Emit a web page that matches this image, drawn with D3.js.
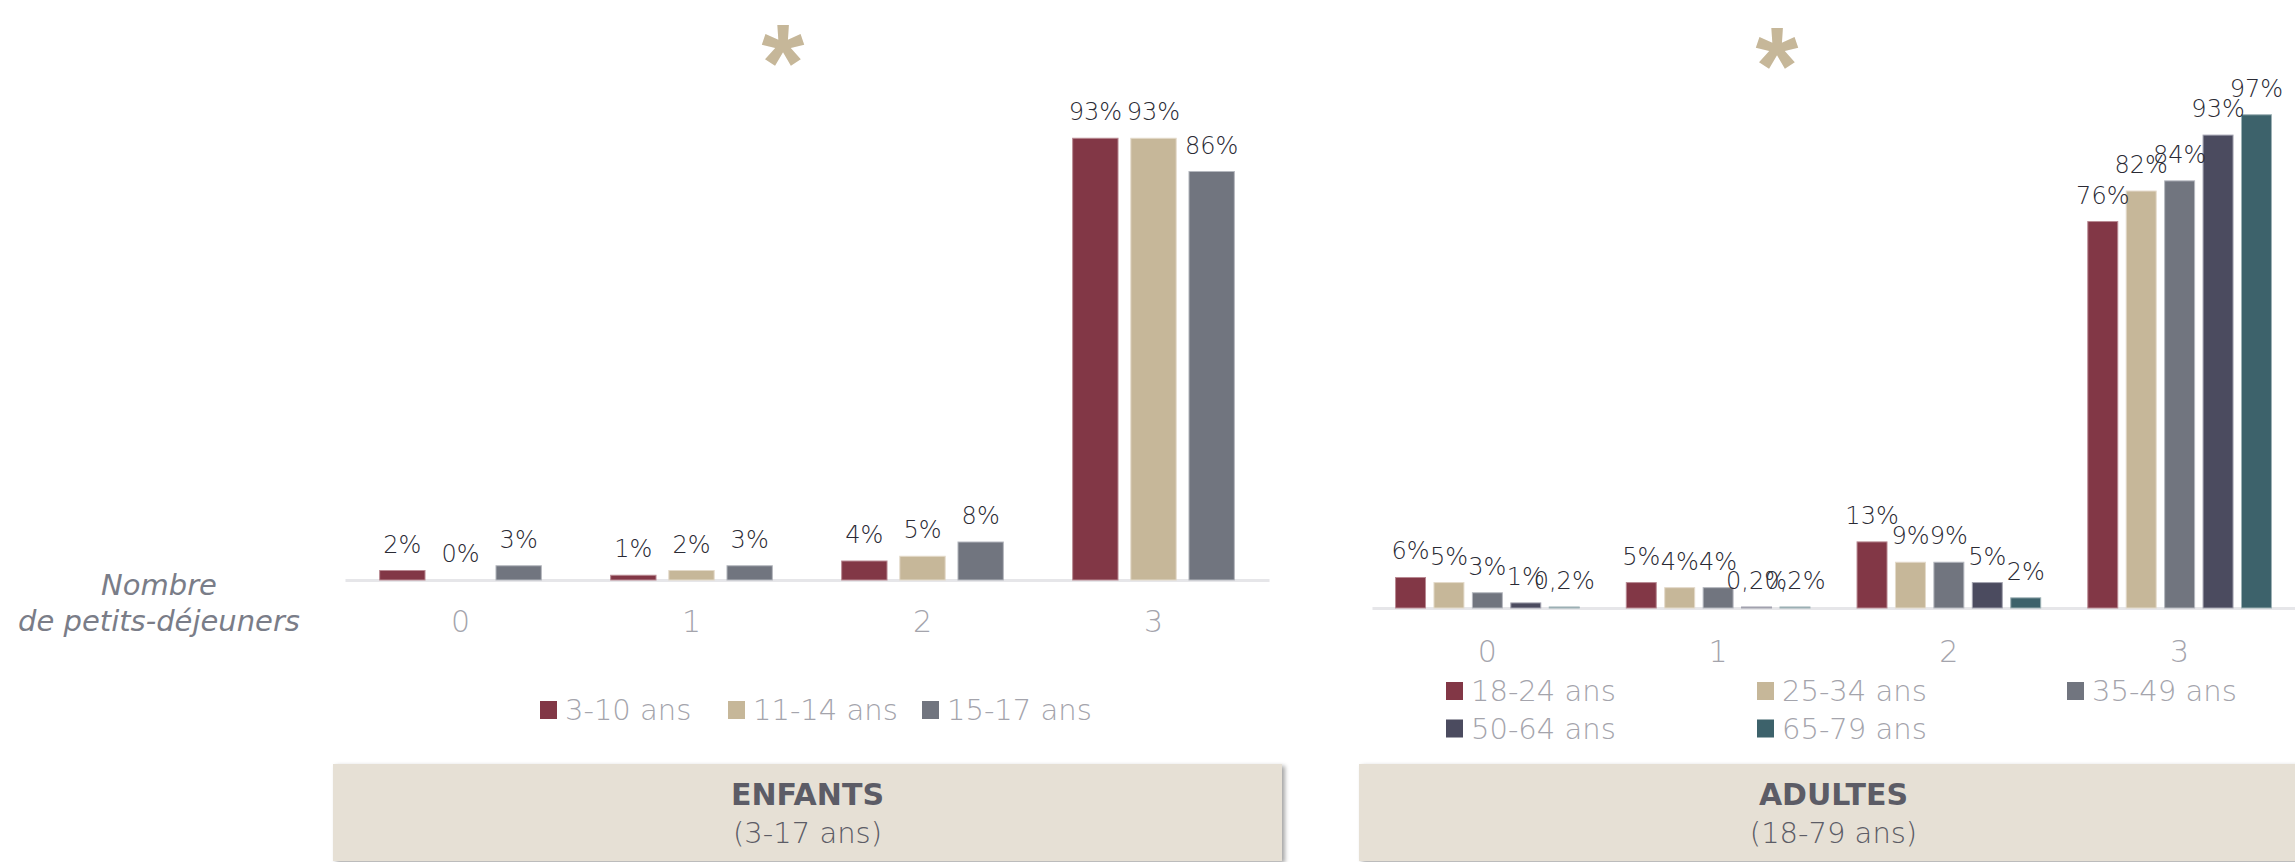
<!DOCTYPE html>
<html lang="fr">
<head>
<meta charset="utf-8">
<script src="https://cdn.jsdelivr.net/npm/d3@7"></script>
<style>
  html, body { margin: 0; padding: 0; background: #ffffff; }
  svg { display: block; }
  text { font-family: "DejaVu Sans", "Noto Sans", sans-serif; }
</style>
</head>
<body>
<svg id="chart" width="2295" height="862"></svg>
<script>
// Nombre de petits-déjeuners (0 à 3) selon la classe d'âge
const categories = ["0", "1", "2", "3"];

// Enfants (3-17 ans), en %
const childSeries = ["3-10 ans", "11-14 ans", "15-17 ans"];
const child_3_10 = [2, 1, 4, 93];
const child_11_14 = [0, 2, 5, 93];
const child_15_17 = [3, 3, 8, 86];

// Adultes (18-79 ans), en %
const adultSeries = ["18-24 ans", "25-34 ans", "35-49 ans", "50-64 ans", "65-79 ans"];
const adult_18_24 = [6, 5, 13, 76];
const adult_25_34 = [5, 4, 9, 82];
const adult_35_49 = [3, 4, 9, 84];
const adult_50_64 = [1, 0.2, 5, 93];
const adult_65_79 = [0.2, 0.2, 2, 97];

const childColors = ["#823746", "#C6B799", "#71757F"];
const adultColors = ["#823746", "#C6B799", "#71757F", "#4B4B5F", "#3D626B"];
const edgeColors = {"#823746": "#B98A93", "#C6B799": "#E3DACA", "#71757F": "#B5B8BF", "#4B4B5F": "#A3A3B0", "#3D626B": "#9DB1B5"};

const fr = d3.formatLocale({decimal: ",", thousands: "\u202f", grouping: [3], currency: ["", " €"]});
const fmtPct = v => (Number.isInteger(v) ? fr.format("d")(v) : fr.format(".1f")(v)) + "%";

const svg = d3.select("#chart");

// Drop shadow for the bottom title boxes
const defs = svg.append("defs");
const shadow = defs.append("filter").attr("id", "boxShadow")
  .attr("x", "-5%").attr("y", "-10%").attr("width", "110%").attr("height", "130%");
shadow.append("feDropShadow").attr("dx", 3).attr("dy", 2).attr("stdDeviation", 2)
  .attr("flood-color", "#000").attr("flood-opacity", 0.35);

function drawPanel(opt) {
  const g = svg.append("g");
  const x0 = d3.scaleBand().domain(categories).range(opt.xRange)
    .paddingInner(opt.groupPad).paddingOuter(opt.groupPad / 2);
  const x1 = d3.scaleBand().domain(opt.series).range([0, x0.bandwidth()]).paddingInner(0.22);
  const y = d3.scaleLinear().domain([0, 100]).range(opt.yRange);

  const rows = categories.map((c, i) => ({cat: c, vals: opt.series.map((s, j) => ({s, v: opt.values[j][i], color: opt.colors[j]}))}));

  // baseline axis
  const axis = g.append("g").attr("transform", `translate(0,${opt.yRange[0]})`)
    .call(d3.axisBottom(x0).tickSize(0).tickSizeOuter(0).tickPadding(opt.tickPad));
  axis.select(".domain").attr("stroke", "#E6E6E9").attr("stroke-width", 3);
  axis.selectAll(".tick text").attr("font-size", 30).attr("font-weight", 200)
    .attr("fill", "#A4A4AC").style("font-family", "'DejaVu Sans', sans-serif");

  const grp = g.selectAll("g.cat").data(rows).join("g").attr("class", "cat")
    .attr("transform", d => `translate(${x0(d.cat)},0)`);

  grp.selectAll("rect").data(d => d.vals).join("rect")
    .attr("x", d => x1(d.s)).attr("width", x1.bandwidth())
    .attr("y", d => y(d.v)).attr("height", d => y(0) - y(d.v))
    .attr("fill", d => d.color)
    .attr("stroke", d => edgeColors[d.color]).attr("stroke-width", 1);

  grp.selectAll("text.val").data(d => d.vals).join("text").attr("class", "val")
    .attr("x", d => x1(d.s) + x1.bandwidth() / 2)
    .attr("y", d => y(d.v) - 18)
    .attr("text-anchor", "middle").attr("font-size", 24).attr("font-weight", 200)
    .attr("fill", "#2A2A34")
    .text(d => fmtPct(d.v));

  // significance marker
  g.append("text").attr("x", opt.starX).attr("y", opt.starY)
    .attr("text-anchor", "middle").attr("font-size", 110).attr("font-weight", 700)
    .style("font-family", "'Liberation Sans', sans-serif")
    .attr("fill", "#C6B799").text("*");

  // legend
  const lg = g.selectAll("g.leg").data(opt.series).join("g").attr("class", "leg")
    .attr("transform", (d, i) => `translate(${opt.legendPos[i][0]},${opt.legendPos[i][1]})`);
  lg.append("rect").attr("x", 0).attr("y", -19).attr("width", 17).attr("height", 18)
    .attr("fill", (d, i) => opt.colors[i]);
  lg.append("text").attr("x", 25).attr("y", 0).attr("font-size", 29).attr("font-weight", 200)
    .attr("fill", "#A4A4AC").text(d => d);

  // title box
  g.append("rect").attr("x", opt.boxX).attr("y", 764).attr("width", 949).attr("height", 97)
    .attr("fill", "#E6E0D5").attr("filter", "url(#boxShadow)");
  const cx = opt.boxX + 949 / 2;
  g.append("text").attr("x", cx).attr("y", 805).attr("text-anchor", "middle")
    .attr("font-size", 30).attr("font-weight", 700).attr("fill", "#5C5C66").text(opt.title);
  g.append("text").attr("x", cx).attr("y", 843).attr("text-anchor", "middle")
    .attr("font-size", 29).attr("font-weight", 200).attr("fill", "#5C5C66").text(opt.subtitle);
}

drawPanel({
  series: childSeries,
  values: [child_3_10, child_11_14, child_15_17],
  colors: childColors,
  xRange: [345, 1269], groupPad: 0.3, yRange: [580, 105], tickPad: 31,
  starX: 783, starY: 100,
  legendPos: [[540, 720], [728, 720], [922, 720]],
  boxX: 333, title: "ENFANTS", subtitle: "(3-17 ans)"
});

drawPanel({
  series: adultSeries,
  values: [adult_18_24, adult_25_34, adult_35_49, adult_50_64, adult_65_79],
  colors: adultColors,
  xRange: [1372, 2295], groupPad: 0.204, yRange: [608, 99.5], tickPad: 33,
  starX: 1777, starY: 103,
  legendPos: [[1446, 701], [1757, 701], [2067, 701], [1446, 738.5], [1757, 738.5]],
  boxX: 1359, title: "ADULTES", subtitle: "(18-79 ans)"
});

// category axis title
const yt = svg.append("text").attr("text-anchor", "middle").attr("font-size", 29)
  .attr("font-style", "italic").attr("font-weight", 200).attr("fill", "#7A7D88");
yt.append("tspan").attr("x", 159).attr("y", 595).text("Nombre");
yt.append("tspan").attr("x", 159).attr("y", 631).text("de petits-déjeuners");
</script>
</body>
</html>
